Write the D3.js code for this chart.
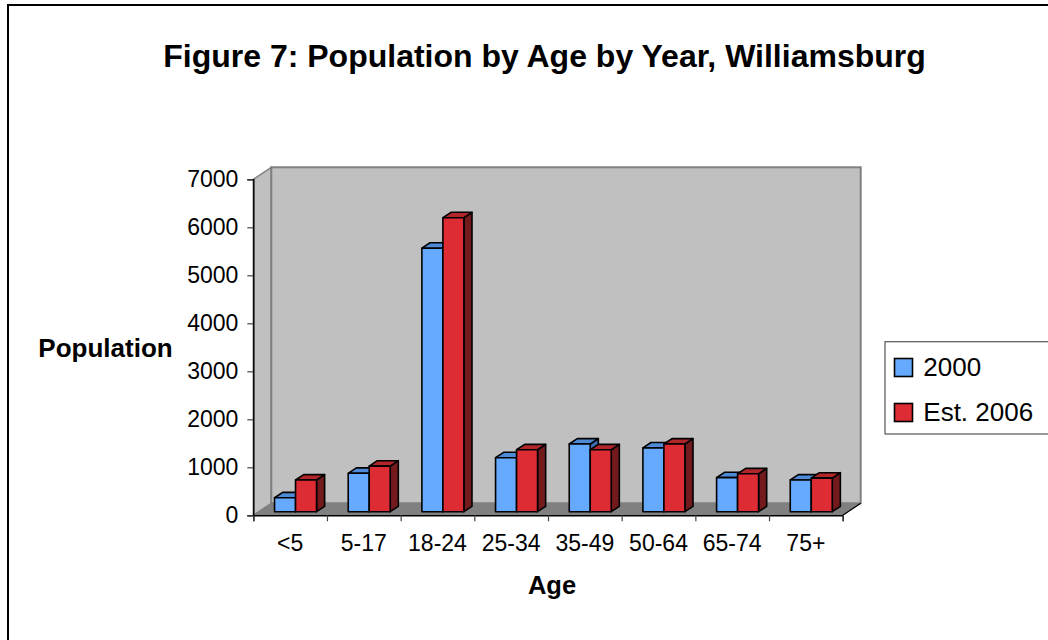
<!DOCTYPE html>
<html>
<head>
<meta charset="utf-8">
<script src="https://cdn.jsdelivr.net/npm/d3@7"></script>
<style>
  body { margin: 0; background: #fff; }
  text { font-family: Arial, "Liberation Sans", sans-serif; fill: #000; }
</style>
</head>
<body>
<div id="chart"></div>
<script>
// Data
const ageGroups = ["<5", "5-17", "18-24", "25-34", "35-49", "50-64", "65-74", "75+"];
const pop2000 = [290, 800, 5490, 1125, 1410, 1330, 710, 660];
const pop2006 = [660, 950, 6125, 1290, 1290, 1410, 790, 700];
const seriesNames = ["2000", "Est. 2006"];
const yTicks = [0, 1000, 2000, 3000, 4000, 5000, 6000, 7000];

function draw() {
  /////////////////////
  // Dimensions of the 3d plot box
  /////////////////////
  const W = 1048, H = 640;
  const left = 253.3, right = 842.7, bottom = 515.3, top = 179.3;
  const depth = { x: 18, y: -12 };      // full depth of the floor
  const barFront = 0.3, barDepth = 0.45; // as fractions of the full depth

  const svg = d3.select("#chart")
    .append("svg")
    .attr("width", W)
    .attr("height", H);

  // outer chart border
  svg.append("rect")
    .attr("x", 8).attr("y", 5)
    .attr("width", 1060).attr("height", 660)
    .attr("fill", "#fff")
    .attr("stroke", "#000")
    .attr("stroke-width", 2);

  ///////////////////////////
  // Scales
  ///////////////////////////
  const xScale = d3.scaleBand()
    .domain(ageGroups)
    .range([left, right])
    .paddingInner(0.43)
    .paddingOuter(0.215);

  const xSub = d3.scaleBand()
    .domain(seriesNames)
    .range([0, xScale.bandwidth()]);

  const yScale = d3.scaleLinear()
    .domain([0, 7000])
    .range([bottom, top]);

  const pt = p => p.map(d => d.join(",")).join(" ");

  ///////////////////////////
  // Walls and floor
  ///////////////////////////
  const backTop = top + depth.y;
  // side wall
  svg.append("polygon")
    .attr("points", pt([[left, bottom], [left, top], [left + depth.x, backTop], [left + depth.x, bottom + depth.y]]))
    .attr("fill", "#c0c0c0").attr("stroke", "#808080").attr("stroke-width", 1.5);
  // back wall
  svg.append("rect")
    .attr("x", left + depth.x).attr("y", backTop)
    .attr("width", right - left).attr("height", bottom - top)
    .attr("fill", "#c0c0c0").attr("stroke", "#808080").attr("stroke-width", 2);
  // floor
  svg.append("polygon")
    .attr("points", pt([[left, bottom], [right, bottom], [right + depth.x, bottom + depth.y], [left + depth.x, bottom + depth.y]]))
    .attr("fill", "#808080").attr("stroke", "#808080");
  svg.append("line")
    .attr("x1", right).attr("y1", bottom)
    .attr("x2", right + depth.x).attr("y2", bottom + depth.y)
    .attr("stroke", "#000").attr("stroke-width", 1.2);

  ///////////////////////////
  // Bars
  ///////////////////////////
  const colors = {
    "2000": { front: "#66aaff", top: "#4f8ad6", side: "#3d6fb3" },
    "Est. 2006": { front: "#dd2c33", top: "#b0262b", side: "#731a1d" }
  };
  const rows = ageGroups.map((g, i) => [
    { group: g, key: "2000", value: pop2000[i] },
    { group: g, key: "Est. 2006", value: pop2006[i] }
  ]).flat();

  const fx = barFront * depth.x, fy = barFront * depth.y;
  const bx = barDepth * depth.x, by = barDepth * depth.y;

  const bars = svg.append("g")
    .selectAll("g")
    .data(rows)
    .join("g")
    .attr("stroke", "#000")
    .attr("stroke-width", 1.6)
    .attr("stroke-linejoin", "round");

  const geom = d => {
    const x0 = xScale(d.group) + xSub(d.key) + fx;
    const x1 = x0 + xSub.bandwidth();
    const y0 = yScale(0) + fy;
    const y1 = yScale(d.value) + fy;
    return { x0, x1, y0, y1 };
  };

  bars.append("polygon")
    .attr("fill", d => colors[d.key].side)
    .attr("points", d => { const g = geom(d); return pt([[g.x1, g.y1], [g.x1 + bx, g.y1 + by], [g.x1 + bx, g.y0 + by], [g.x1, g.y0]]); });
  bars.append("polygon")
    .attr("fill", d => colors[d.key].top)
    .attr("points", d => { const g = geom(d); return pt([[g.x0, g.y1], [g.x0 + bx, g.y1 + by], [g.x1 + bx, g.y1 + by], [g.x1, g.y1]]); });
  bars.append("rect")
    .attr("fill", d => colors[d.key].front)
    .attr("x", d => geom(d).x0)
    .attr("y", d => geom(d).y1)
    .attr("width", xSub.bandwidth())
    .attr("height", d => geom(d).y0 - geom(d).y1);

  ///////////////////////////
  // Axes
  ///////////////////////////
  svg.append("g")
    .attr("transform", `translate(${left},0)`)
    .call(d3.axisLeft(yScale).tickValues(yTicks).tickFormat(d3.format("d")).tickSize(6).tickPadding(9))
    .call(g => g.select(".domain").attr("stroke", "#000").attr("stroke-width", 1.5))
    .call(g => g.selectAll(".tick line").attr("stroke", "#444").attr("stroke-width", 1.2))
    .call(g => g.selectAll("text").attr("font-size", 23).attr("font-family", "Arial, 'Liberation Sans'").attr("fill", "#000"));

  // category separators on the x axis
  const xEdges = d3.scaleLinear().domain([0, ageGroups.length]).range([left, right]);
  svg.append("g")
    .attr("transform", `translate(0,${bottom})`)
    .call(d3.axisBottom(xEdges).tickValues(d3.range(ageGroups.length + 1)).tickSize(6).tickFormat(""))
    .call(g => g.select(".domain").attr("stroke", "#000").attr("stroke-width", 1.5))
    .call(g => g.selectAll(".tick line").attr("stroke", "#444").attr("stroke-width", 1.2));

  svg.append("g")
    .attr("transform", `translate(0,${bottom})`)
    .call(d3.axisBottom(xScale).tickSize(0).tickPadding(19))
    .call(g => g.select(".domain").remove())
    .call(g => g.selectAll("text").attr("font-size", 23).attr("font-family", "Arial, 'Liberation Sans'").attr("fill", "#000"));

  ///////////////////////////
  // Titles
  ///////////////////////////
  svg.append("text")
    .attr("x", 544.5).attr("y", 67)
    .attr("text-anchor", "middle")
    .attr("font-size", 32).attr("font-weight", "bold")
    .text("Figure 7: Population by Age by Year, Williamsburg");

  svg.append("text")
    .attr("x", 105.5).attr("y", 356.7)
    .attr("text-anchor", "middle")
    .attr("font-size", 26).attr("font-weight", "bold")
    .text("Population");

  svg.append("text")
    .attr("x", 552).attr("y", 594)
    .attr("text-anchor", "middle")
    .attr("font-size", 25.5).attr("font-weight", "bold")
    .text("Age");

  ///////////////////////////
  // Legend
  ///////////////////////////
  const legend = svg.append("g");
  legend.append("rect")
    .attr("x", 885).attr("y", 341.7)
    .attr("width", 200).attr("height", 92.3)
    .attr("fill", "#fff").attr("stroke", "#555").attr("stroke-width", 1.2);

  const item = legend.selectAll("g")
    .data(seriesNames)
    .join("g")
    .attr("transform", (d, i) => `translate(0,${i * 45})`);
  item.append("rect")
    .attr("x", 894.5).attr("y", 358.5)
    .attr("width", 18).attr("height", 18)
    .attr("fill", d => colors[d].front)
    .attr("stroke", "#000").attr("stroke-width", 1.6);
  item.append("text")
    .attr("x", 923.3).attr("y", 375.7)
    .attr("font-size", 26)
    .text(d => d);
}

draw();
</script>
</body>
</html>
